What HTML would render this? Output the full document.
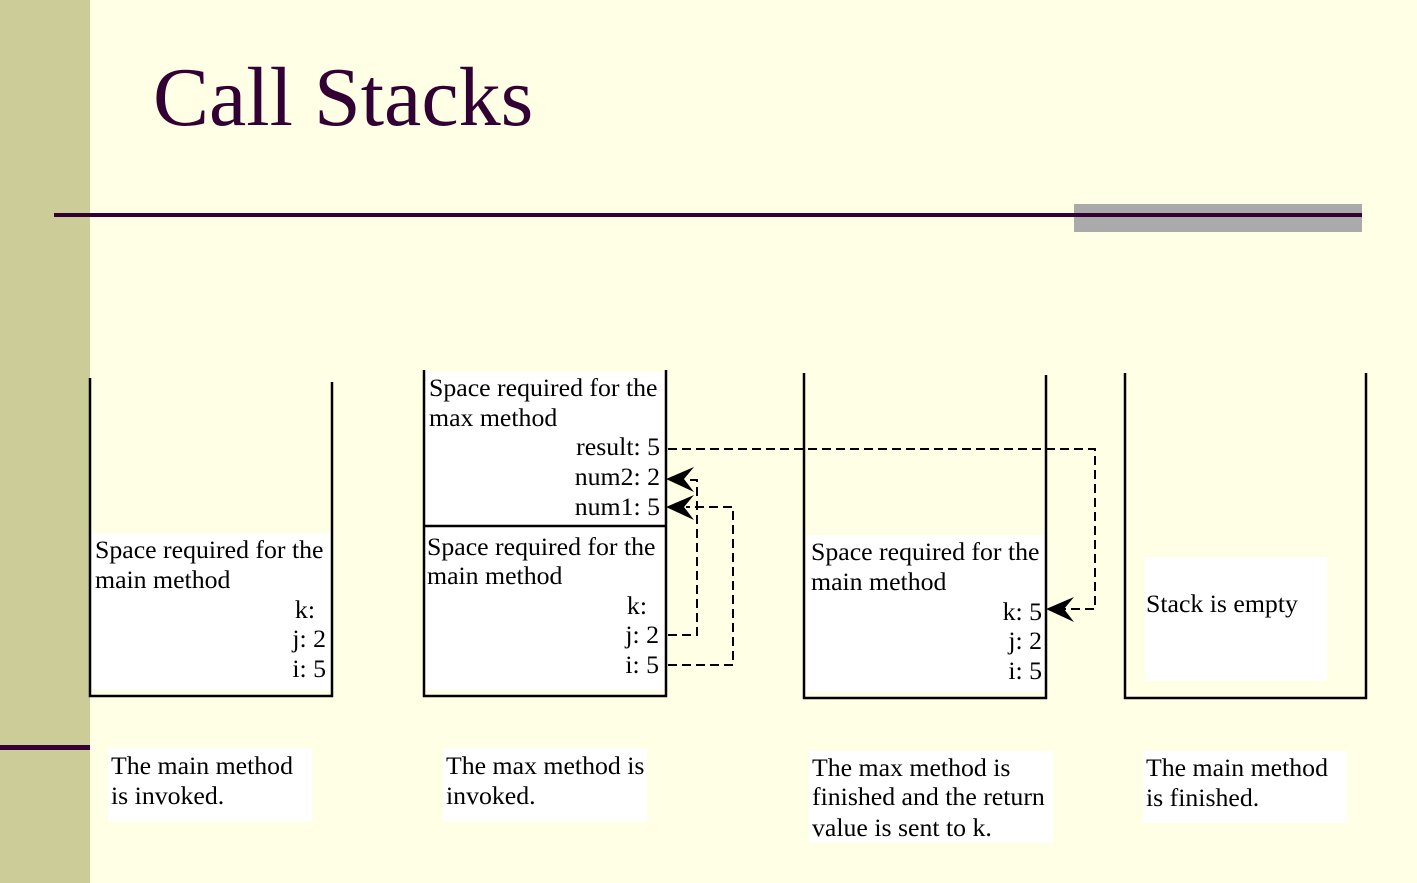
<!DOCTYPE html>
<html><head><meta charset="utf-8"><style>
body{margin:0;background:#FFFFE5;}
svg{display:block}
text{font-family:"Liberation Serif",serif;font-size:25.8px;fill:#000}
</style></head><body>
<svg width="1417" height="883" viewBox="0 0 1417 883">
<rect width="1417" height="883" fill="#FFFFE5"/>
<rect x="0" y="0" width="90" height="883" fill="#CCCC99"/>
<rect x="0" y="745" width="90" height="5" fill="#330033"/>
<text x="153" y="125" style="font-size:84px;fill:#330033">Call Stacks</text>
<rect x="1074" y="204" width="288" height="28" fill="#AAAAAA"/>
<rect x="54" y="213" width="1308" height="4" fill="#330033"/>

<g stroke="#000" stroke-width="2.5" fill="none">
<rect x="92" y="533" width="238" height="157" fill="#fff" stroke="none"/>
<path d="M90 378V696H332V382"/>
<rect x="425" y="372" width="239" height="318" fill="#fff" stroke="none"/>
<path d="M424 370V696H666V370"/>
<path d="M424 526H666"/>
<rect x="806" y="535" width="239" height="157" fill="#fff" stroke="none"/>
<path d="M804 373V698H1046V375"/>
<rect x="1145" y="557" width="182" height="124" fill="#fff" stroke="none"/>
<path d="M1125 373V698H1366V373"/>
</g>

<g stroke="#000" stroke-width="2" fill="none" stroke-dasharray="9,5">
<path d="M668 449H1095V609H1058"/>
<path d="M668 635H697V480H686"/>
<path d="M668 665H733V507H686"/>
</g>
<g fill="#000">
<path d="M666 479L694 467L684 479L694 492Z"/>
<path d="M666 507L694 495L684 507L694 520Z"/>
<path d="M1046 609L1074 597L1064 609L1074 622Z"/>
</g>

<text x="95" y="558">Space required for the</text>
<text x="95" y="588">main method</text>
<text x="315" y="618" text-anchor="end">k:</text>
<text x="326" y="647" text-anchor="end">j: 2</text>
<text x="326" y="677" text-anchor="end">i: 5</text>

<text x="429" y="396">Space required for the</text>
<text x="429" y="426">max method</text>
<text x="660" y="455" text-anchor="end">result: 5</text>
<text x="660" y="485" text-anchor="end">num2: 2</text>
<text x="660" y="515" text-anchor="end">num1: 5</text>
<text x="427" y="555">Space required for the</text>
<text x="427" y="584">main method</text>
<text x="647" y="614" text-anchor="end">k:</text>
<text x="659" y="643" text-anchor="end">j: 2</text>
<text x="659" y="673" text-anchor="end">i: 5</text>

<text x="811" y="560">Space required for the</text>
<text x="811" y="590">main method</text>
<text x="1042" y="620" text-anchor="end">k: 5</text>
<text x="1042" y="649" text-anchor="end">j: 2</text>
<text x="1042" y="679" text-anchor="end">i: 5</text>

<text x="1146" y="612">Stack is empty</text>

<rect x="108" y="748" width="204" height="74" fill="#fff"/>
<text x="111" y="774">The main method</text>
<text x="111" y="804">is invoked.</text>
<rect x="443" y="748" width="204" height="74" fill="#fff"/>
<text x="446" y="774">The max method is</text>
<text x="446" y="804">invoked.</text>
<rect x="809" y="751" width="244" height="92" fill="#fff"/>
<text x="812" y="776">The max method is</text>
<text x="812" y="805">finished and the return</text>
<text x="812" y="836">value is sent to k.</text>
<rect x="1143" y="751" width="204" height="72" fill="#fff"/>
<text x="1146" y="776">The main method</text>
<text x="1146" y="806">is finished.</text>
</svg>
</body></html>
